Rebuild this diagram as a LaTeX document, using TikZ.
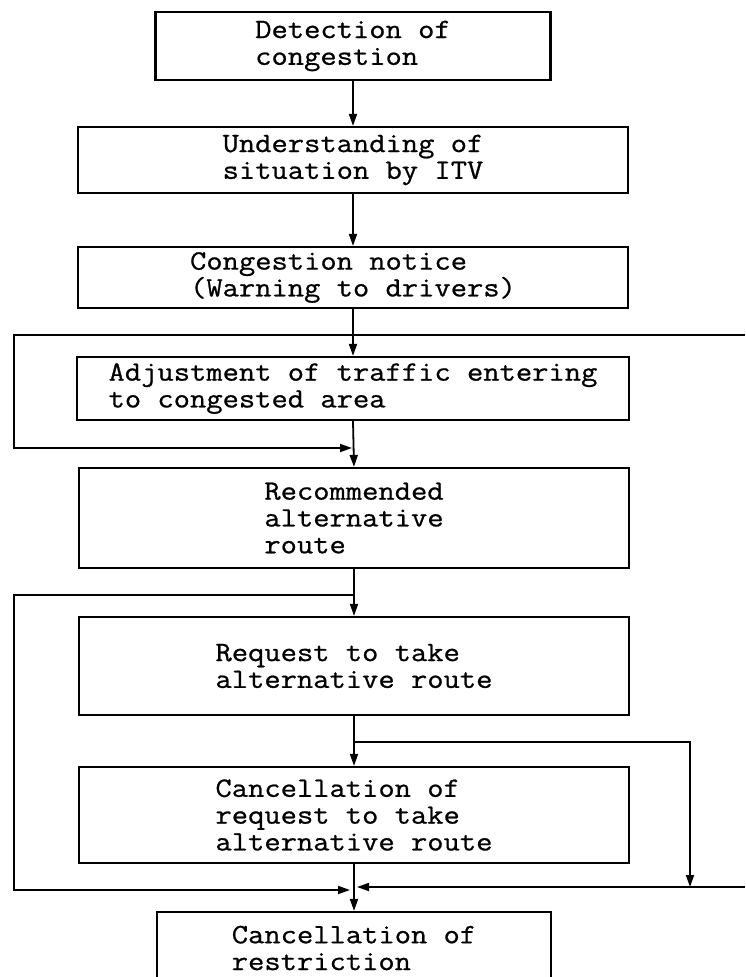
\documentclass[tikz,border=0pt]{standalone}
\usepackage{fontspec}
\newfontfamily\typer{Latin Modern Mono}[FakeStretch=1.13,FakeBold=0.8]
\usetikzlibrary{arrows.meta}

\begin{document}
\begin{tikzpicture}[x=1pt,y=-1pt,
  stage/.style={draw, line width=2.2pt, inner sep=0pt, align=left,
    font=\typer\fontsize{28}{26.8}\selectfont, minimum width=550pt},
  flow/.style={line width=1.8pt, -{Triangle[length=12pt,width=8pt]}}]
\useasboundingbox (0,0) rectangle (745,977);
\clip (0,0) rectangle (745,977);

% process stages
\node[stage, minimum width=395pt, minimum height=68pt] (b1) at (353,46)
  {Detection of\\congestion};
\node[stage, minimum height=66pt] (b2) at (353,160)
  {Understanding of\\situation by ITV};
\node[stage, minimum height=61pt] (b3) at (353,277.5)
  {Congestion notice\\(Warning to drivers)};
\node[stage, minimum width=552pt, minimum height=63pt] (b4) at (353,388.5)
  {Adjustment of traffic entering\\to congested area};
\node[stage, minimum height=100pt] (b5) at (354,518)
  {Recommended\\alternative\\route};
\node[stage, minimum height=98pt] (b6) at (354,666)
  {Request to take\\alternative route};
\node[stage, minimum height=96pt] (b7) at (354,815)
  {Cancellation of\\request to take\\alternative route};
\node[stage, minimum width=394pt, minimum height=72pt] (b8) at (354,948)
  {Cancellation of\\restriction};

% junctions, bends and incoming ends
\coordinate (e1) at (745,335);
\coordinate (c1) at (14,335);
\coordinate (c2) at (14,448);
\coordinate (j1) at (352,448);
\coordinate (j2) at (353,595);
\coordinate (c3) at (14,595);
\coordinate (c4) at (14,890);
\coordinate (j3) at (350,890);
\coordinate (j4) at (353,742);
\coordinate (c5) at (690,742);
\coordinate (c6) at (690,887);
\coordinate (e2) at (745,887);
\coordinate (j5) at (357,887);

% main flow
\draw[flow] (b1.south) -- (b2.north);
\draw[flow] (b2.south) -- (b3.north);
\draw[flow] (b3.south) -- (b4.north);
\draw[flow] (b4.south) -- (b5.north);
\draw[flow] (b5.south) -- (b6.north);
\draw[flow] (b6.south) -- (b7.north);
\draw[flow] (b7.south) -- (b8.north);

% bypass loops
\draw[flow] (e1) -- (c1) -- (c2) -- (j1);
\draw[flow] (j2) -- (c3) -- (c4) -- (j3);
\draw[flow] (j4) -- (c5) -- (c6);
\draw[flow] (e2) -- (j5);
\end{tikzpicture}
\end{document}
